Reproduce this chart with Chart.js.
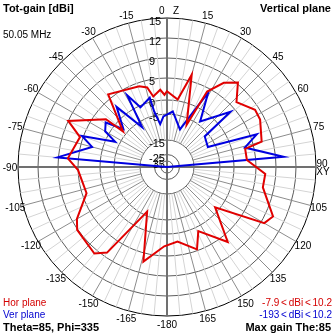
<!DOCTYPE html>
<html>
<head>
<meta charset="utf-8">
<script src="https://cdn.jsdelivr.net/npm/chart.js@4.4.1/dist/chart.umd.min.js"></script>
<style>
  html, body { margin: 0; padding: 0; background: #fff; }
  #wrap { position: relative; width: 335px; height: 335px; font-family: "Liberation Sans", Arial, sans-serif; font-size: 10px; }
  #chart { position: absolute; left: 0; top: 0; }
  .t { position: absolute; white-space: nowrap; line-height: 12px; }
  .b { font-weight: bold; font-size: 11px; }
  .n { word-spacing: -1px; }
  .red { color: #d40000; }
  .blue { color: #0000d0; }
</style>
</head>
<body>
<div id="wrap">
  <canvas id="chart" width="335" height="335"></canvas>
  <div class="t b" style="left:3px;top:2px">Tot-gain [dBi]</div>
  <div class="t b" style="right:4px;top:2px">Vertical plane</div>
  <div class="t" style="left:3px;top:29px">50.05 MHz</div>
  <div class="t red" style="left:3px;top:297px">Hor plane</div>
  <div class="t blue" style="left:3px;top:309px">Ver plane</div>
  <div class="t b" style="left:3px;top:321px">Theta=85, Phi=335</div>
  <div class="t red n" style="right:3px;top:297px">-7.9 &lt; dBi &lt; 10.2</div>
  <div class="t blue n" style="right:3px;top:309px">-193 &lt; dBi &lt; 10.2</div>
  <div class="t b" style="right:4px;top:321px">Max gain The:85</div>
</div>
<script>
// gain rings (dBi) and their radius in px for a 149 px outer ring
const ringGains = [-35, -25, -15, -5, 0, 5, 9, 12, 15];
const ringRadii = [6, 12.5, 27, 53, 67, 89, 109, 129, 149];

// pattern vertices: [theta in degrees, gain in dBi]
const horPlane = [
  [0, 2.0], [9, 0.3], [15, 6.3], [25, -7.5], [28, 4.2], [34, 7.5], [40, 9.2],
  [47, 6.2], [57, 8.2], [63, 8.1], [75, 6.8], [77, 3.0], [85, 3.0], [94, 6.9],
  [102, 6.8], [115, 10.2], [120, 9.5], [130, -1.5], [141, 6.5], [154, 1.0],
  [160, 4.7], [172, 1.9], [-178, 2.8], [-166, 6.7], [-156, -6.6], [-145, 8.1],
  [-140, 9.6], [-125, 9.1], [-120, 8.0], [-108, 4.0], [-92, 5.0], [-85, 7.1],
  [-71, 5.6], [-65, 9.0], [-52, 2.4], [-51, -3.7], [-39, 5.9], [-19, 4.2],
  [-14, 3.4], [-11, 1.1], [-5, 2.4], [-2, 1.2]
];
const verPlane = [
  [-90, -193], [-85, 9.15], [-75, 2.4], [-70, 5.3], [-64, -3.3], [-60, 1.0],
  [-54, 2.0], [-49, -3.3], [-40, 2.6], [-32, -7.4], [-29, 3.4], [-24, -0.6],
  [-14, 1.0], [-13, -3.6], [-9, -8.7], [-4, -5.9], [6, -4.0], [19, -10.1],
  [26, -1.1], [29, 4.1], [36, -3.8], [49, 3.9], [51, -6.7], [64, -7.9],
  [70, 6.3], [76, 3.0], [85, 10.2], [90, -193]
];

const STEPS = 360;
const thetaLabels = [];
for (let i = 0; i < STEPS; i++) {
  const a = i <= 180 ? i : i - 360;
  if (i === 0) thetaLabels.push('0   Z');
  else if (i === 90) thetaLabels.push(['90', 'XY']);
  else if (i === 180) thetaLabels.push('-180');
  else if (i % 15 === 0) thetaLabels.push(String(a));
  else thetaLabels.push('');
}

function toSeries(vertices) {
  const out = new Array(STEPS).fill(null);
  vertices.forEach(([a, g]) => {
    out[((Math.round(a) % 360) + 360) % 360] = g;
  });
  return out;
}

// piecewise log-like radius for a gain value, 0..1 of the outer ring
function gainFrac(g) {
  const R = ringRadii[ringRadii.length - 1];
  if (g <= -45) return 0;
  if (g <= ringGains[0]) return (ringRadii[0] / R) * (g + 45) / (ringGains[0] + 45);
  for (let i = 1; i < ringGains.length; i++) {
    if (g <= ringGains[i]) {
      const t = (g - ringGains[i - 1]) / (ringGains[i] - ringGains[i - 1]);
      return (ringRadii[i - 1] + t * (ringRadii[i] - ringRadii[i - 1])) / R;
    }
  }
  return 1;
}

class GainScale extends Chart.RadialLinearScale {
  getDistanceFromCenterForValue(value) {
    if (value === null || value === undefined || isNaN(value)) return NaN;
    return this.drawingArea * gainFrac(value);
  }
  getValueForDistanceFromCenter(distance) {
    const f = distance / this.drawingArea;
    let lo = -45, hi = 15;
    for (let k = 0; k < 30; k++) {
      const mid = (lo + hi) / 2;
      if (gainFrac(mid) < f) lo = mid; else hi = mid;
    }
    return (lo + hi) / 2;
  }
}
GainScale.id = 'gain';
Chart.register(GainScale);

const FONT = '"Liberation Sans", Arial, sans-serif';

// spokes every 5 deg from the -15 ring out, gain labels beside the Z axis,
// theta labels centred just outside the outer ring
const polarExtras = {
  id: 'polarExtras',
  beforeDatasetsDraw(chart) {
    const s = chart.scales.r;
    const ctx = chart.ctx;
    const inner = s.getDistanceFromCenterForValue(-15);
    const outer = s.getDistanceFromCenterForValue(15);
    ctx.save();
    for (let i = 0; i < STEPS; i += 5) {
      if (i % 90 === 0) continue;
      const p0 = s.getPointPosition(i, inner);
      const p1 = s.getPointPosition(i, outer);
      ctx.strokeStyle = i % 15 === 0 ? '#8c8c8c' : '#d4d4d4';
      ctx.lineWidth = 1;
      ctx.beginPath();
      ctx.moveTo(p0.x, p0.y);
      ctx.lineTo(p1.x, p1.y);
      ctx.stroke();
    }
    ctx.fillStyle = '#000';
    ctx.font = '11px ' + FONT;
    ctx.textAlign = 'left';
    ctx.textBaseline = 'middle';
    ringGains.forEach(g => {
      const d = s.getDistanceFromCenterForValue(g);
      ctx.fillText(String(g), s.xCenter - 18, s.yCenter - d + 4);
    });

    ctx.font = '10px ' + FONT;
    ctx.textAlign = 'center';
    const labelR = outer + 8;
    for (let i = 0; i < STEPS; i += 15) {
      const lab = thetaLabels[i];
      const p = s.getPointPosition(i, labelR);
      const x = i === 0 ? p.x + 2 : p.x;
      const y = p.y + 1;
      if (Array.isArray(lab)) {
        ctx.fillText(lab[0], x - 2, y - 4);
        ctx.fillText(lab[1], x - 1, y + 4);
      } else {
        ctx.fillText(lab, x, y);
      }
    }
    ctx.restore();
  }
};

new Chart(document.getElementById('chart'), {
  type: 'radar',
  data: {
    labels: thetaLabels,
    datasets: [
      { label: 'Hor plane', data: toSeries(horPlane), borderColor: '#e00000', borderWidth: 2 },
      { label: 'Ver plane', data: toSeries(verPlane), borderColor: '#0000e0', borderWidth: 2 }
    ]
  },
  options: {
    responsive: false,
    devicePixelRatio: 1,
    animation: false,
    layout: { padding: 18 },
    elements: {
      line: { tension: 0, fill: false, borderJoinStyle: 'miter' },
      point: { radius: 0, hitRadius: 0 }
    },
    datasets: { radar: { spanGaps: true } },
    plugins: { legend: { display: false }, tooltip: { enabled: false } },
    scales: {
      r: {
        type: 'gain',
        min: -45,
        max: 15,
        afterBuildTicks: scale => { scale.ticks = ringGains.map(v => ({ value: v })); },
        ticks: { display: false },
        grid: {
          circular: true,
          color: c => c.index === ringGains.length - 1 ? '#000' : '#5c5c5c',
          lineWidth: 1
        },
        angleLines: {
          color: c => c.index % 90 === 0 ? '#707070' : 'transparent',
          lineWidth: 2
        },
        pointLabels: { display: false }
      }
    }
  },
  plugins: [polarExtras]
});
</script>
</body>
</html>
